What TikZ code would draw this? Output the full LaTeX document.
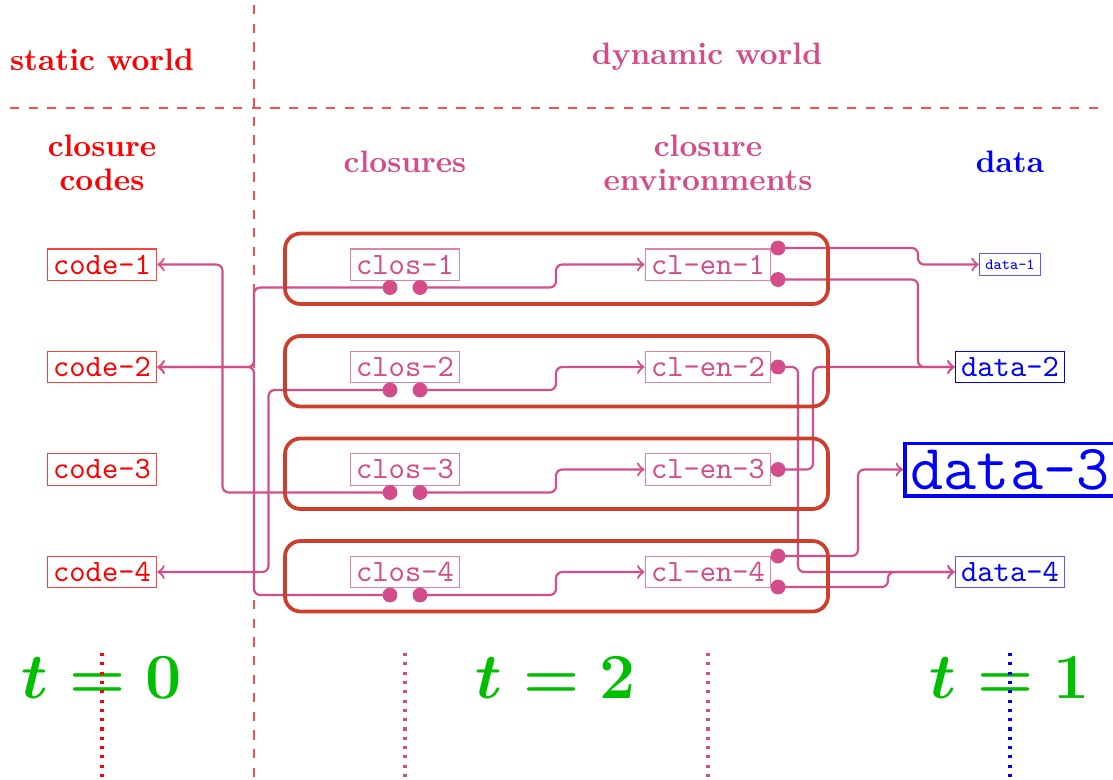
\documentclass[tikz,border=0pt]{standalone}
\definecolor{dyn}{RGB}{212,76,138}
\definecolor{grpcol}{RGB}{205,62,45}
\begin{document}
\begin{tikzpicture}[x=0.3226pt, y=-0.3226pt,
    world/.style={font=\bfseries\fontsize{10}{11}\selectfont},
    code/.style={draw=red!75, text=red, font=\ttfamily, inner sep=1.9pt},
    clos/.style={draw=dyn!70, text=dyn, font=\ttfamily, inner sep=1.9pt},
    data/.style={draw=blue!65, text=blue, font=\ttfamily, inner sep=1.9pt},
    grp/.style={draw=grpcol, very thick, rounded corners=5pt},
    ptrdot/.style={circle, fill=dyn, inner sep=0pt, minimum size=4.8pt},
    ptr/.style={dyn, line width=0.7pt, rounded corners=2pt, ->},
    tlab/.style={text=green!75!black, font=\huge\boldmath},
    divider/.style={red!70, dashed},
    tline/.style={line width=1pt, dotted}]
  \useasboundingbox (0,0) rectangle (1113,779);

  \draw[divider] (10,108) -- (1100,108);
  \draw[divider] (254,5) -- (254,779);

  \node[world, text=red] (static) at (102,60) {static world};
  \node[world, text=dyn] (dynamic) at (707,57) {dynamic world};
  \node[world, text=red, align=center] (codes-head) at (102,163) {closure\\codes};
  \node[world, text=dyn] (clos-head) at (405,162) {closures};
  \node[world, text=dyn, align=center] (env-head) at (708,163) {closure\\environments};
  \node[world, text=blue] (data-head) at (1010,162) {data};

  \foreach \i/\y in {1/264.5,2/367,3/469.5,4/572}{
    \node[code] (code-\i) at (102,\y) {code-\i};
    \node[clos] (clos-\i) at (405,\y) {clos-\i};
    \node[clos] (clen-\i) at (708,\y) {cl-en-\i};
    \node[ptrdot] (cp-\i) at (390,\y+23) {};
    \node[ptrdot] (ep-\i) at (420,\y+23) {};
    \draw[ptr] (ep-\i.center) -| (556,\y) -- (clen-\i);
  }

  \node[data, font=\ttfamily\tiny] (data-1) at (1010,264.5) {data-1};
  \node[data, draw=blue] (data-2) at (1010,367) {data-2};
  \node[data, draw=blue, line width=1.1pt, font=\ttfamily\huge] (data-3) at (1010,469.5) {data-3};
  \node[data] (data-4) at (1010,572) {data-4};

  % code pointers
  \draw[ptr] (cp-1.center) -| (254,367) -- (code-2);
  \draw[ptr] (cp-4.center) -| (254,367) -- (code-2);
  \draw[ptr] (cp-3.center) -| (222.5,264.5) -- (code-1);
  \draw[ptr] (cp-2.center) -| (268.5,572) -- (code-4);

  % environment fields
  \node[ptrdot] (en-1a) at (778,248) {};
  \node[ptrdot] (en-1b) at (778,279.5) {};
  \node[ptrdot] (en-2) at (778,367) {};
  \node[ptrdot] (en-3) at (778,469.5) {};
  \node[ptrdot] (en-4a) at (778,556) {};
  \node[ptrdot] (en-4b) at (778,587) {};

  \draw[ptr] (en-1a.center) -| (918,264.5) -- (data-1);
  \draw[ptr] (en-1b.center) -| (918,367) -- (data-2);
  \draw[ptr] (en-2.center) -| (798,572) -- (data-4);
  \draw[ptr] (en-3.center) -| (813,367) -- (data-2);
  \draw[ptr] (en-4a.center) -| (858,469.5) -- (data-3);
  \draw[ptr] (en-4b.center) -| (888,572) -- (data-4);

  \foreach \y in {264.5,367,469.5,572}
    \draw[grp] (285,\y-31) rectangle (828,\y+39.5);

  \node[tlab] (t-0) at (102,678) {$t=0$};
  \node[tlab] (t-2) at (556,678) {$t=2$};
  \node[tlab] (t-1) at (1010,678) {$t=1$};

  \draw[tline, red] (102,653) -- (102,777);
  \draw[tline, dyn] (405,653) -- (405,777);
  \draw[tline, dyn] (708,653) -- (708,777);
  \draw[tline, blue] (1010,653) -- (1010,777);
\end{tikzpicture}
\end{document}
